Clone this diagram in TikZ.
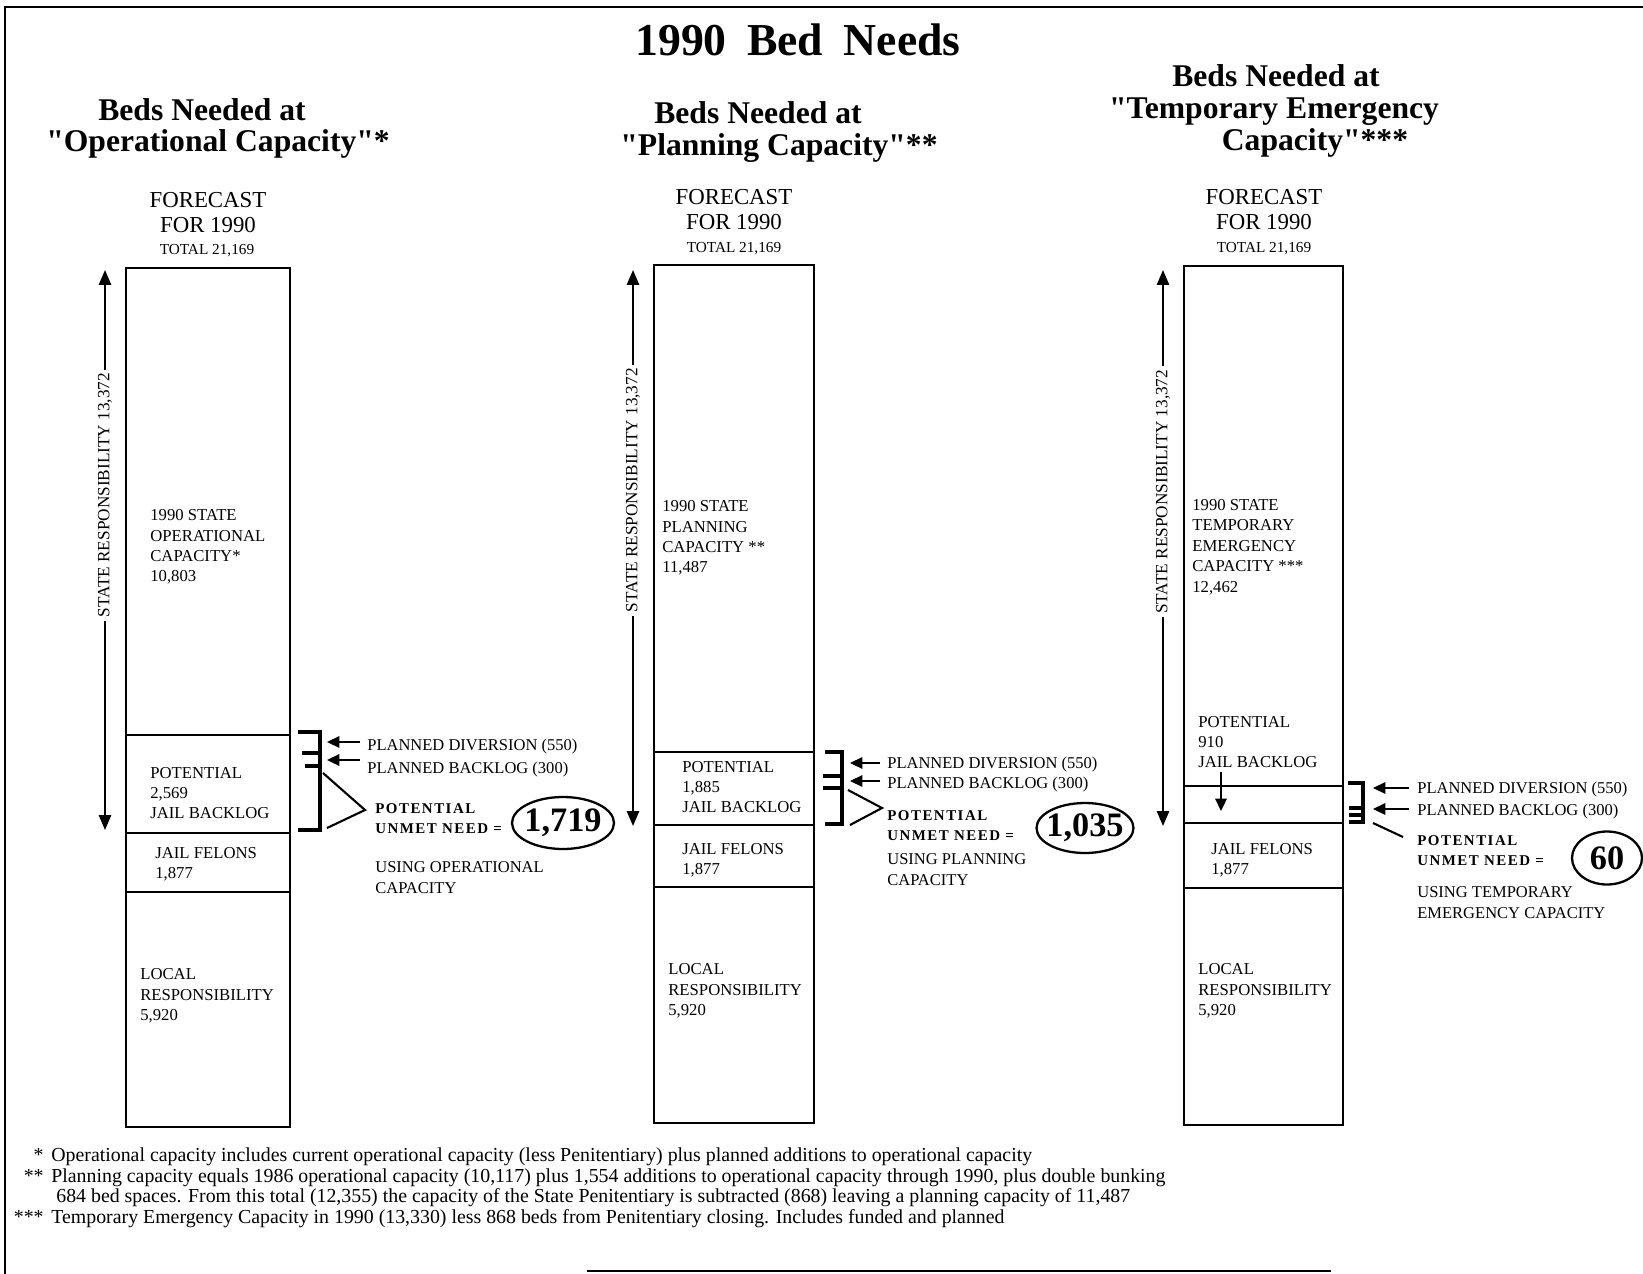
\documentclass[tikz,border=0pt]{standalone}
\usepackage{fontspec}
\setmainfont[Ligatures=TeXOff]{Liberation Serif}
\usetikzlibrary{arrows.meta,positioning,calc,shapes.geometric}

\begin{document}
\begin{tikzpicture}[x=0.02cm,y=-0.02cm,
    bar/.style={line width=1pt},
    head/.style={inner sep=0pt,font=\fontsize{18}{21}\selectfont\bfseries},
    fc/.style={inner sep=0pt,font=\fontsize{13}{15}\selectfont},
    tot/.style={inner sep=0pt,font=\fontsize{8.7}{10}\selectfont},
    txt/.style={anchor=west,align=left,inner sep=0pt,font=\fontsize{9.5}{11.6}\selectfont},
    resp/.style={line width=1pt,{Triangle[length=8.5pt,width=7pt]}-{Triangle[length=8.5pt,width=7pt]}},
    resplbl/.style={rotate=90,fill=white,inner xsep=2pt,inner ysep=0pt,font=\fontsize{9.8}{11}\selectfont},
    brk/.style={line width=1.8pt},
    vee/.style={line width=1.2pt},
    side/.style={anchor=west,align=left,inner sep=0pt,font=\fontsize{9.4}{12}\selectfont},
    pt/.style={line width=1pt,-{Triangle[length=7pt,width=6.5pt]}},
    need/.style={anchor=west,align=left,inner sep=0pt,font=\fontsize{8.5}{11.5}\selectfont\bfseries\addfontfeature{LetterSpace=10}},
    num/.style={ellipse,draw,line width=1.3pt,inner xsep=-12pt,inner ysep=0pt,font=\fontsize{19.5}{20}\selectfont\bfseries},
    star/.style={anchor=mid east,inner sep=0pt,font=\fontsize{11.3}{12}\selectfont},
    note/.style={anchor=mid west,inner sep=0pt,font=\fontsize{11.3}{12}\selectfont}]
\useasboundingbox (0,0) rectangle (1643,1274);
\draw[line width=1.2pt] (1643,7) -- (5,7) -- (5,1274);
\draw[line width=1.2pt] (587,1271) -- (1331,1271);
\node[inner sep=0pt,font=\fontsize{26}{30}\selectfont\bfseries] (title) at (798,40) {1990\hspace{.45em}Bed\hspace{.45em}Needs};

% operational capacity
\node[head] (h1a) at (202,110) {Beds Needed at};
\node[head] (h1b) at (218,144) {"Operational Capacity"*};
\node[fc] (fc1) at (208,200) {FORECAST};
\node[fc] (fy1) at (208,225) {FOR 1990};
\node[tot] (ft1) at (207,251) {TOTAL 21,169};
\draw[bar] (126,268) rectangle (290,1127);
\draw[bar] (126,735) -- (290,735) (126,833) -- (290,833) (126,892) -- (290,892);
\node[txt] (cap1) at (150,547) {1990 STATE\\OPERATIONAL\\CAPACITY*\\10,803};
\node[txt] (pj1) at (150,793) {POTENTIAL\\2,569\\JAIL BACKLOG};
\node[txt] (jf1) at (155,864) {JAIL FELONS\\1,877};
\node[txt] (lr1) at (140,996) {LOCAL\\RESPONSIBILITY\\5,920};
\coordinate (r1t) at (105,270);
\coordinate (r1b) at (105,830);
\draw[resp] (r1t) -- node[resplbl,pos=.402] (rl1) {STATE RESPONSIBILITY 13,372} (r1b);
\draw[brk] (298,732) -- (320,732) -- (320,830) -- (298,830);
\draw[brk] (302,753) -- (320,753) (305,766) -- (320,766);
\node[side] (dv1) at (367,747) {PLANNED DIVERSION (550)};
\node[side] (bl1) at (367,770) {PLANNED BACKLOG (300)};
\coordinate (a1) at (360,742);
\coordinate (b1) at (360,760);
\coordinate (d1) at (327,742);
\coordinate (e1) at (327,760);
\draw[pt] (a1) -- (d1);
\draw[pt] (b1) -- (e1);
\draw[vee] (323,773) -- (365,810) -- (327,828);
\node[need] (pn1) at (375,819) {POTENTIAL\\UNMET NEED =};
\node[num,minimum width=2.04cm,minimum height=1.04cm] (n1) at (563,823) {1,719};
\node[side] (us1) at (375,878) {USING OPERATIONAL\\CAPACITY};

% planning capacity
\node[head] (h2a) at (758,113) {Beds Needed at};
\node[head] (h2b) at (779,148) {"Planning Capacity"**};
\node[fc] (fc2) at (734,197) {FORECAST};
\node[fc] (fy2) at (734,222) {FOR 1990};
\node[tot] (ft2) at (734,249) {TOTAL 21,169};
\draw[bar] (654,265) rectangle (814,1123);
\draw[bar] (654,752) -- (814,752) (654,825) -- (814,825) (654,887) -- (814,887);
\node[txt] (cap2) at (662,538) {1990 STATE\\PLANNING\\CAPACITY **\\11,487};
\node[txt] (pj2) at (682,787) {POTENTIAL\\1,885\\JAIL BACKLOG};
\node[txt] (jf2) at (682,860) {JAIL FELONS\\1,877};
\node[txt] (lr2) at (668,991) {LOCAL\\RESPONSIBILITY\\5,920};
\coordinate (r2t) at (633,270);
\coordinate (r2b) at (633,826);
\draw[resp] (r2t) -- node[resplbl,pos=.396] (rl2) {STATE RESPONSIBILITY 13,372} (r2b);
\draw[brk] (825,752) -- (842,752) -- (842,824) -- (825,824);
\draw[brk] (823,776) -- (842,776) (823,788) -- (842,788);
\node[side] (dv2) at (887,765) {PLANNED DIVERSION (550)};
\node[side] (bl2) at (887,785) {PLANNED BACKLOG (300)};
\coordinate (d2) at (850,763);
\coordinate (e2) at (850,781);
\draw[pt] (dv2.west |- d2) ++(-7,0) -- (d2);
\draw[pt] (bl2.west |- e2) ++(-7,0) -- (e2);
\draw[vee] (848,790) -- (882,808) -- (850,825);
\node[need] (pn2) at (887,826) {POTENTIAL\\UNMET NEED =};
\node[num,minimum width=1.94cm,minimum height=1cm] (n2) at (1085,828) {1,035};
\node[side] (us2) at (887,870) {USING PLANNING\\CAPACITY};

% temporary emergency capacity
\node[head] (h3a) at (1276,75.5) {Beds Needed at};
\node[head] (h3b) at (1274,112) {"Temporary Emergency};
\node[head] (h3c) at (1315,143) {Capacity"***};
\node[fc] (fc3) at (1264,197) {FORECAST};
\node[fc] (fy3) at (1264,222) {FOR 1990};
\node[tot] (ft3) at (1264,249) {TOTAL 21,169};
\draw[bar] (1184,266) rectangle (1343,1125);
\draw[bar] (1184,786) -- (1343,786) (1184,823) -- (1343,823) (1184,888) -- (1343,888);
\node[txt] (cap3) at (1192,547) {1990 STATE\\TEMPORARY\\EMERGENCY\\CAPACITY ***\\12,462};
\node[txt] (pj3) at (1198,742) {POTENTIAL\\910\\JAIL BACKLOG};
\node[txt] (jf3) at (1211,860) {JAIL FELONS\\1,877};
\node[txt] (lr3) at (1198,991) {LOCAL\\RESPONSIBILITY\\5,920};
\coordinate (s3a) at (1221,772);
\coordinate (s3b) at (1221,811);
\draw[pt] (s3a) -- (s3b);
\coordinate (r3t) at (1163,270);
\coordinate (r3b) at (1163,826);
\draw[resp] (r3t) -- node[resplbl,pos=.399] (rl3) {STATE RESPONSIBILITY 13,372} (r3b);
\draw[brk] (1348,783) -- (1363,783) -- (1363,822) -- (1349,822);
\draw[brk] (1349,808) -- (1363,808) (1349,815) -- (1363,815);
\node[side] (dv3) at (1417,790) {PLANNED DIVERSION (550)};
\node[side] (bl3) at (1417,812) {PLANNED BACKLOG (300)};
\coordinate (d3) at (1373,788);
\coordinate (e3) at (1373,809);
\draw[pt] (dv3.west |- d3) ++(-8,0) -- (d3);
\draw[pt] (bl3.west |- e3) ++(-8,0) -- (e3);
\draw[vee] (1373,823) -- (1403,837);
\node[need] (pn3) at (1417,851) {POTENTIAL\\UNMET NEED =};
\node[num,minimum width=1.4cm,minimum height=1.06cm] (n3) at (1607,858) {60};
\node[side] (us3) at (1417,903) {USING TEMPORARY\\EMERGENCY CAPACITY};

% notes
\node[star] (f1s) at (44,1157) {*};
\node[note] (f1) at (51,1157) {Operational capacity includes current operational capacity (less Penitentiary) plus planned additions to operational capacity};
\node[star] (f2s) at (44,1178) {**};
\node[note] (f2) at (51,1178) {Planning capacity equals 1986 operational capacity (10,117) plus 1,554 additions to operational capacity through 1990, plus double bunking};
\node[note] (f2b) at (56,1198) {684 bed spaces. From this total (12,355) the capacity of the State Penitentiary is subtracted (868) leaving a planning capacity of 11,487};
\node[star] (f3s) at (44,1219) {***};
\node[note] (f3) at (51,1219) {Temporary Emergency Capacity in 1990 (13,330) less 868 beds from Penitentiary closing. Includes funded and planned};
\end{tikzpicture}
\end{document}
